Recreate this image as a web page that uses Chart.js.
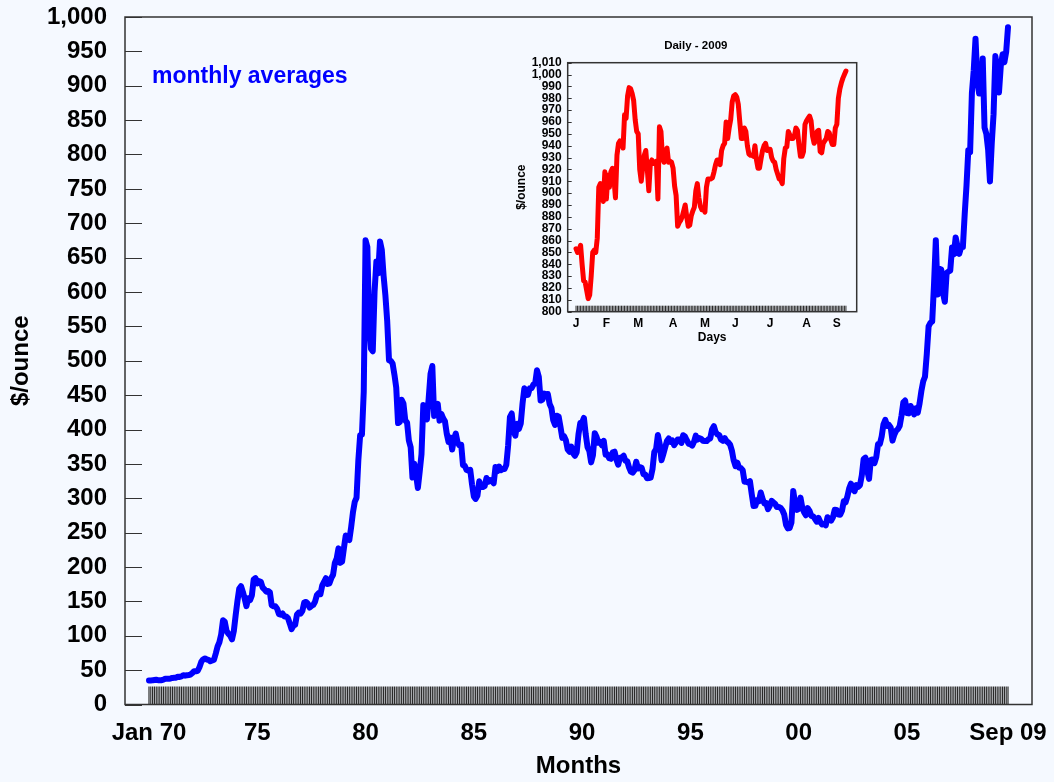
<!DOCTYPE html>
<html>
<head>
<meta charset="utf-8">
<title>Gold price</title>
<script src="https://cdn.jsdelivr.net/npm/chart.js@4.4.1/dist/chart.umd.min.js"></script>
<style>
  html, body { margin: 0; padding: 0; background: #f5f9ff; }
  #wrap { position: relative; width: 1054px; height: 782px; }
  #mainChart { position: absolute; left: 0; top: 0; }
  #dailyChart { position: absolute; left: 490px; top: 30px; }
</style>
</head>
<body>
<div id="wrap">
  <canvas id="mainChart" width="1054" height="782"></canvas>
  <canvas id="dailyChart" width="380" height="320"></canvas>
</div>
<script>
// Monthly averages, Jan 1970 .. Sep 2009 ($/ounce), one row per year
const monthlyPrices = [
  34.9, 35.0, 35.1, 35.6, 36.0, 35.4, 35.3, 35.4, 36.2, 37.5, 37.4, 37.4,
  37.9, 38.7, 38.9, 39.0, 40.5, 40.1, 40.9, 42.7, 42.0, 42.5, 42.9, 43.5,
  45.8, 48.3, 48.3, 49.0, 54.6, 62.1, 65.7, 67.0, 65.5, 64.9, 62.9, 63.9,
  65.1, 74.2, 84.4, 90.5, 102.0, 122.5, 120.2, 106.8, 103.0, 100.1, 94.8, 106.7,
  129.2, 150.2, 168.4, 172.2, 163.9, 154.1, 143.0, 154.6, 151.8, 158.8, 181.7, 183.9,
  176.3, 179.6, 178.2, 170.1, 167.4, 164.2, 165.2, 163.1, 144.1, 142.8, 142.8, 139.3,
  131.5, 130.7, 132.4, 128.1, 128.1, 125.6, 117.9, 109.6, 114.4, 116.1, 130.8, 133.6,
  132.3, 136.3, 148.2, 149.2, 146.6, 141.0, 143.4, 144.8, 149.5, 158.9, 162.0, 160.5,
  173.2, 178.2, 183.7, 175.3, 176.2, 183.7, 188.7, 206.1, 212.4, 227.1, 206.0, 207.8,
  227.3, 245.7, 242.0, 239.2, 257.6, 279.1, 294.7, 300.8, 355.1, 391.7, 392.5, 455.1,
  675.3, 665.3, 553.6, 517.4, 513.8, 600.7, 644.3, 627.2, 673.6, 661.2, 623.5, 594.9,
  557.4, 500.5, 499.8, 495.8, 479.7, 460.8, 409.3, 410.9, 443.3, 437.8, 413.4, 410.1,
  384.1, 374.3, 330.2, 350.4, 333.9, 314.9, 338.6, 364.0, 435.6, 422.0, 414.6, 445.9,
  480.8, 492.3, 419.7, 432.6, 437.4, 412.9, 422.8, 416.3, 411.9, 393.8, 381.8, 388.3,
  370.9, 386.6, 394.0, 381.2, 377.0, 377.7, 348.0, 347.1, 341.1, 340.2, 341.2, 320.2,
  302.7, 299.0, 304.0, 324.6, 316.5, 316.4, 317.7, 329.4, 323.9, 326.4, 325.3, 321.8,
  345.4, 339.2, 346.0, 340.8, 342.4, 342.6, 348.6, 376.8, 418.0, 423.3, 398.0, 391.0,
  408.3, 401.0, 408.8, 438.0, 460.0, 450.0, 450.6, 460.0, 460.0, 465.3, 466.9, 486.3,
  476.6, 442.1, 443.6, 452.1, 451.2, 451.7, 437.2, 431.3, 413.4, 406.6, 420.1, 418.7,
  404.0, 387.8, 390.2, 384.3, 371.0, 367.6, 375.0, 365.4, 361.8, 366.8, 393.1, 409.5,
  410.1, 416.8, 393.1, 374.3, 369.0, 352.2, 362.5, 394.7, 389.3, 380.7, 381.9, 377.0,
  383.6, 363.3, 363.8, 358.4, 357.4, 366.7, 367.7, 356.3, 348.7, 358.7, 359.6, 361.8,
  354.4, 353.9, 345.0, 338.6, 337.2, 340.8, 353.1, 343.2, 345.4, 344.4, 335.0, 334.7,
  329.0, 329.3, 330.0, 342.2, 367.2, 371.6, 392.0, 378.7, 355.3, 364.2, 373.8, 383.3,
  387.0, 382.0, 384.0, 377.3, 381.4, 385.6, 385.5, 380.4, 391.6, 389.8, 384.4, 379.3,
  378.6, 376.5, 382.1, 391.0, 385.3, 387.6, 386.2, 383.7, 383.1, 383.1, 385.9, 387.0,
  400.1, 404.8, 396.3, 392.8, 391.9, 385.3, 383.5, 387.5, 383.1, 381.1, 377.9, 369.3,
  355.0, 346.6, 351.8, 344.5, 343.8, 340.8, 324.1, 324.0, 322.8, 324.9, 306.0, 288.7,
  289.1, 297.5, 295.9, 308.4, 299.1, 292.3, 292.9, 284.1, 289.0, 296.1, 294.0, 291.6,
  287.1, 287.3, 286.0, 282.6, 276.4, 261.3, 256.2, 256.7, 264.7, 310.7, 293.2, 283.1,
  284.6, 300.9, 286.4, 279.8, 275.3, 285.7, 281.6, 274.5, 273.7, 270.0, 266.0, 271.5,
  265.5, 261.9, 263.0, 260.5, 272.4, 270.2, 267.5, 272.4, 283.4, 283.1, 276.2, 275.9,
  281.7, 295.5, 294.1, 302.7, 314.5, 321.2, 313.3, 310.3, 319.2, 316.6, 319.2, 333.4,
  356.9, 359.0, 340.6, 328.2, 355.7, 356.4, 351.0, 359.8, 378.9, 378.9, 389.9, 407.6,
  414.0, 405.3, 406.7, 403.0, 383.8, 392.4, 398.1, 400.5, 405.3, 420.5, 439.4, 442.1,
  424.0, 423.4, 434.2, 429.1, 421.9, 430.7, 424.5, 437.9, 456.0, 469.9, 476.7, 509.8,
  549.9, 555.0, 557.1, 610.6, 675.4, 596.2, 633.7, 632.6, 598.2, 585.8, 627.8, 629.8,
  631.2, 664.8, 654.9, 679.4, 666.9, 655.5, 665.3, 665.4, 712.7, 754.6, 806.3, 803.2,
  889.6, 922.3, 968.4, 909.7, 888.7, 889.5, 939.8, 839.0, 829.9, 806.6, 760.9, 816.1,
  858.7, 943.2, 924.3, 890.2, 928.6, 945.7, 934.2, 949.4, 985.0
];
const yearTickMonths = [0, 60, 120, 180, 240, 300, 360, 420, 476];
const yearTickLabels = ['Jan 70', '75', '80', '85', '90', '95', '00', '05', 'Sep 09'];

// Daily 2009 fixes (trading days)
const dailyPrices = [
  853, 850, 852, 856, 840, 826, 825, 818, 811, 814, 830, 850, 852, 850, 862, 905, 908, 902, 893, 918,
  895, 915, 905, 918, 921, 912, 896, 932, 942, 944, 943, 938, 966, 963, 982, 989, 988, 984, 978, 962,
  952, 950, 920, 910, 922, 932, 936, 920, 902, 925, 928, 925, 926, 927, 895, 956, 952, 930, 926, 935,
  938, 926, 927, 926, 921, 906, 898, 872, 875, 877, 880, 885, 890, 880, 872, 873, 881, 885, 888, 902,
  908, 896, 889, 886, 887, 884, 905, 912, 912, 912, 913, 918, 924, 928, 928, 924, 936, 940, 942, 960,
  946, 955, 962, 977, 982, 983, 981, 975, 960, 946, 946, 955, 952, 940, 933, 932, 932, 931, 940, 928,
  921, 921, 929, 936, 940, 942, 936, 937, 937, 930, 927, 926, 920, 916, 912, 911, 908, 929, 938, 939,
  952, 949, 946, 946, 948, 955, 953, 941, 931, 931, 935, 958, 961, 963, 965, 961, 948, 942, 944, 952,
  953, 935, 934, 942, 944, 946, 952, 951, 945, 941, 941, 955, 958, 980, 988, 993, 997, 1000, 1003
];
const dayMonthStarts = [0, 20, 41, 64, 85, 105, 128, 152, 172];
const dayMonthLabels = ['J', 'F', 'M', 'A', 'M', 'J', 'J', 'A', 'S'];

const FONT = "'Liberation Sans', Arial, Helvetica, sans-serif";

// keep the chart area where we put it (no extra room for edge labels)
function fixBox(s, w, h) {
  if (w !== null) s.width = w;
  if (h !== null) s.height = h;
  s.paddingTop = 0; s.paddingBottom = 0; s.paddingLeft = 0; s.paddingRight = 0;
}

// frame, inward y ticks and the dense strip of period ticks on the x axis
const frameTicks = {
  id: 'frameTicks',
  beforeDatasetsDraw(chart, args, opts) {
    const {ctx, chartArea: a, scales: {x}} = chart;
    ctx.save();
    ctx.strokeStyle = opts.stripColor;
    ctx.lineWidth = opts.stripWidth;
    ctx.beginPath();
    for (let i = 0; i < opts.count; i++) {
      const px = x.getPixelForValue(i);
      ctx.moveTo(px, a.bottom);
      ctx.lineTo(px, a.bottom - opts.stripHeight);
    }
    ctx.stroke();
    ctx.restore();
  },
  afterDatasetsDraw(chart, args, opts) {
    const {ctx, chartArea: a, scales: {y}} = chart;
    ctx.save();
    ctx.strokeStyle = opts.color;
    ctx.lineWidth = 1;
    ctx.beginPath();
    y.ticks.forEach(t => {
      const py = Math.round(y.getPixelForValue(t.value)) + 0.5;
      ctx.moveTo(a.left, py);
      ctx.lineTo(a.left + opts.tickLength, py);
    });
    ctx.stroke();
    ctx.lineWidth = 1.5;
    ctx.strokeRect(a.left, a.top, a.right - a.left, a.bottom - a.top);
    ctx.restore();
  }
};

// free text placed on the canvas
const freeText = {
  id: 'freeText',
  afterDraw(chart, args, opts) {
    const ctx = chart.ctx;
    ctx.save();
    opts.items.forEach(it => {
      ctx.font = it.font;
      ctx.fillStyle = it.color;
      ctx.textAlign = it.align;
      ctx.textBaseline = 'middle';
      ctx.fillText(it.text, it.x, it.y);
    });
    ctx.restore();
  }
};

new Chart(document.getElementById('mainChart'), {
  type: 'line',
  data: {
    datasets: [{
      data: monthlyPrices.map((v, i) => ({x: i, y: v})),
      borderColor: '#0000ff',
      borderWidth: 6,
      borderJoinStyle: 'round',
      borderCapStyle: 'round',
      pointRadius: 0,
      tension: 0,
      fill: false
    }]
  },
  options: {
    responsive: false,
    animation: false,
    events: [],
    layout: { padding: {left: 0, right: 22, top: 17, bottom: 0}, autoPadding: false },
    scales: {
      x: {
        type: 'linear',
        bounds: 'data',
        min: -13.3,
        max: 489.3,
        afterBuildTicks: s => { s.ticks = yearTickMonths.map(v => ({value: v})); },
        afterFit: s => fixBox(s, null, 77.5),
        grid: { display: false, drawTicks: false },
        border: { display: false },
        ticks: {
          autoSkip: false,
          maxRotation: 0,
          padding: 14,
          color: '#000',
          font: { family: FONT, size: 24, weight: 'bold' },
          callback: (v, i) => yearTickLabels[i]
        },
        title: {
          display: true,
          text: 'Months',
          color: '#000',
          font: { family: FONT, size: 24, weight: 'bold' },
          padding: {top: 0, bottom: 1}
        }
      },
      y: {
        min: 0,
        max: 1000,
        afterFit: s => fixBox(s, 125, null),
        grid: { display: false, drawTicks: false },
        border: { display: false },
        ticks: {
          stepSize: 50,
          autoSkip: false,
          padding: 18,
          color: '#000',
          font: { family: FONT, size: 24, weight: 'bold' },
          callback: v => v.toLocaleString('en-US')
        },
        title: {
          display: true,
          text: '$/ounce',
          color: '#000',
          font: { family: FONT, size: 24, weight: 'bold' },
          padding: {top: 7, bottom: 0}
        }
      }
    },
    plugins: {
      legend: { display: false },
      tooltip: { enabled: false },
      frameTicks: { count: monthlyPrices.length, stripHeight: 18, stripWidth: 1.2, stripColor: '#2a2a2a', color: '#333', tickLength: 17 },
      freeText: { items: [
        { text: 'monthly averages', x: 152, y: 77, font: 'bold 23px ' + FONT, color: '#0000ff', align: 'left' }
      ] }
    }
  },
  plugins: [frameTicks, freeText]
});

new Chart(document.getElementById('dailyChart'), {
  type: 'line',
  data: {
    datasets: [{
      data: dailyPrices.map((v, i) => ({x: i, y: v})),
      borderColor: '#ff0000',
      borderWidth: 5,
      borderJoinStyle: 'round',
      borderCapStyle: 'round',
      pointRadius: 0,
      tension: 0,
      fill: false
    }]
  },
  options: {
    responsive: false,
    animation: false,
    events: [],
    layout: { padding: {left: 0, right: 13.3, top: 32.7, bottom: 0}, autoPadding: false },
    scales: {
      x: {
        type: 'linear',
        bounds: 'data',
        min: -5.5,
        max: 185.1,
        afterBuildTicks: s => { s.ticks = dayMonthStarts.map(v => ({value: v})); },
        afterFit: s => fixBox(s, null, 38.3),
        grid: { display: false, drawTicks: false },
        border: { display: false },
        ticks: {
          autoSkip: false,
          maxRotation: 0,
          padding: 5,
          color: '#000',
          font: { family: FONT, size: 12, weight: 'bold' },
          callback: (v, i) => dayMonthLabels[i]
        },
        title: {
          display: true,
          text: 'Days',
          color: '#000',
          font: { family: FONT, size: 12, weight: 'bold' },
          padding: {top: 0, bottom: 4.8}
        }
      },
      y: {
        min: 800,
        max: 1010,
        afterFit: s => fixBox(s, 77.7, null),
        grid: { display: false, drawTicks: false },
        border: { display: false },
        ticks: {
          stepSize: 10,
          autoSkip: false,
          padding: 6,
          color: '#000',
          font: { family: FONT, size: 12, weight: 'bold' },
          callback: v => v.toLocaleString('en-US')
        },
        title: {
          display: true,
          text: '$/ounce',
          color: '#000',
          font: { family: FONT, size: 12, weight: 'bold' },
          padding: {top: 24.5, bottom: 0}
        }
      }
    },
    plugins: {
      legend: { display: false },
      tooltip: { enabled: false },
      frameTicks: { count: dailyPrices.length, stripHeight: 6, stripWidth: 1, stripColor: '#2a2a2a', color: '#333', tickLength: 4 },
      freeText: { items: [
        { text: 'Daily - 2009', x: 205.8, y: 15.7, font: 'bold 11.5px ' + FONT, color: '#000', align: 'center' }
      ] }
    }
  },
  plugins: [frameTicks, freeText]
});
</script>
</body>
</html>
